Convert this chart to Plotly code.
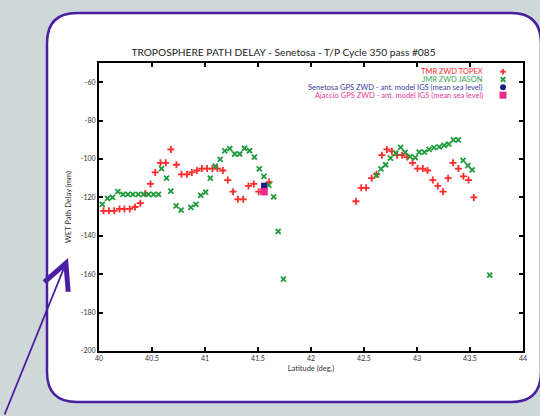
import plotly.graph_objects as go

# ---------------- data ----------------
topex_lat = [40.043, 40.094, 40.144, 40.194, 40.24, 40.29, 40.34, 40.39, 40.436, 40.486,
             40.53, 40.58, 40.63, 40.678, 40.73, 40.778, 40.83, 40.876, 40.923, 40.97,
             41.02, 41.07, 41.117, 41.168, 41.215, 41.265, 41.31, 41.36, 41.41, 41.46,
             41.507, 41.604,
             42.424, 42.474, 42.52, 42.572, 42.619, 42.669, 42.716, 42.763, 42.813, 42.86,
             42.907, 42.958, 43.005, 43.055, 43.1, 43.149, 43.196, 43.246, 43.293, 43.34,
             43.391, 43.438, 43.486, 43.536]
topex_wet = [-127, -127, -127, -126, -126, -126, -125, -123, -118, -113,
             -107, -102, -102, -95, -103, -108, -108, -107, -106, -105,
             -105, -105, -105, -106, -111, -117, -121, -121, -114, -113,
             -117, -112,
             -122, -115, -115, -110, -108, -98, -95, -96, -98, -98,
             -99, -102, -105, -105, -106, -111, -114, -117, -110, -102,
             -105, -109, -111, -120]

jason_lat = [40.031, 40.08, 40.128, 40.178, 40.226, 40.273, 40.32, 40.37, 40.42, 40.467,
             40.515, 40.561, 40.59, 40.637, 40.678, 40.728, 40.775, 40.867, 40.914, 40.96,
             41.006, 41.05, 41.096, 41.143, 41.187, 41.234, 41.28, 41.327, 41.373, 41.42,
             41.466, 41.512, 41.556, 41.602, 41.648, 41.69, 41.74,
             42.619, 42.66, 42.704, 42.75, 42.798, 42.845, 42.888, 42.935, 42.983, 43.02,
             43.07, 43.114, 43.16, 43.21, 43.256, 43.3, 43.344, 43.39, 43.435, 43.48,
             43.52, 43.686]
jason_wet = [-123.6, -120.5, -120, -117, -118.4, -118.4, -118.4, -118.4, -118.4, -118.4,
             -118.4, -118.4, -105, -110, -116.7, -124.4, -126.6, -125.2, -123.6, -119,
             -117.3, -110, -103.7, -100.2, -95.8, -94.6, -97.4, -97.4, -94.4, -95.7,
             -99, -105.1, -109, -113.6, -119.7, -137.7, -162.6,
             -108.4, -105.2, -103, -99.5, -96.9, -93.9, -96.5, -98.8, -99.3, -96.4,
             -96.4, -95, -94.1, -93.7, -92.9, -92.2, -90, -90, -100.7, -103.5,
             -105.7, -160.5]

senetosa_lat = [41.557]
senetosa_wet = [-113.9]
ajaccio_lat = [41.557]
ajaccio_wet = [-117]

legend_labels = ["TMR ZWD TOPEX", "JMR ZWD JASON",
                 "Senetosa GPS ZWD - ant. model IGS (mean sea level)",
                 "Ajaccio GPS ZWD - ant. model IGS (mean sea level)"]

x_ticks = [40, 40.5, 41, 41.5, 42, 42.5, 43, 43.5, 44]
y_ticks = [-200, -180, -160, -140, -120, -100, -80, -60]

# ---------------- styling ----------------
RED = "#ff2a2a"
GREEN = "#1f9a3a"
NAVY = "#1c1c8c"
MAGENTA = "#ec2a8e"
PURPLE = "#4a1ea0"
FONT = "Lato"

fig = go.Figure()
fig.add_trace(go.Scatter(x=topex_lat, y=topex_wet, mode="markers",
                         marker=dict(symbol="cross-thin", size=5, color=RED,
                                     line=dict(color=RED, width=1.8))))
fig.add_trace(go.Scatter(x=jason_lat, y=jason_wet, mode="markers",
                         marker=dict(symbol="x-thin", size=5, color=GREEN,
                                     line=dict(color=GREEN, width=1.8))))
fig.add_trace(go.Scatter(x=senetosa_lat, y=senetosa_wet, mode="markers",
                         marker=dict(symbol="square", size=6, color=NAVY, line=dict(width=0))))
fig.add_trace(go.Scatter(x=ajaccio_lat, y=ajaccio_wet, mode="markers",
                         marker=dict(symbol="square", size=7.5, color=MAGENTA, line=dict(width=0))))

# plot area geometry (pixels)
W, H = 540, 416
L, R, T, B = 99, 17, 63, 65
pw, ph = W - L - R, H - T - B


def px2paper_x(px):
    return (px - L) / pw


def px2paper_y(py):
    return (H - B - py) / ph


# rounded white panel
x0, x1 = px2paper_x(47), px2paper_x(541)
y0, y1 = px2paper_y(402), px2paper_y(13)
rx, ry = 30 / pw, 30 / ph
path = (f"M {x0+rx} {y1} L {x1-rx} {y1} Q {x1} {y1} {x1} {y1-ry} "
        f"L {x1} {y0+ry} Q {x1} {y0} {x1-rx} {y0} "
        f"L {x0+rx} {y0} Q {x0} {y0} {x0} {y0+ry} "
        f"L {x0} {y1-ry} Q {x0} {y1} {x0+rx} {y1} Z")
fig.add_shape(type="path", path=path, xref="paper", yref="paper",
              fillcolor="white", line=dict(color=PURPLE, width=2.5), layer="below")

# legend (text right-aligned, symbol drawn on the right)
legend_colors = [RED, "#3aa655", "#3c3aa0", "#e8389a"]
rows_py = [71.7, 79.5, 87.3, 95.2]
sym_x = px2paper_x(503)
for lab, tc, py in zip(legend_labels, legend_colors, rows_py):
    fig.add_annotation(x=px2paper_x(485), y=px2paper_y(py), xref="paper", yref="paper",
                       text=lab, showarrow=False, xanchor="right", yanchor="middle",
                       font=dict(family=FONT, size=7.5, color=tc))

pix = dict(xref="paper", yref="paper", xsizemode="pixel", ysizemode="pixel", xanchor=sym_x)
# plus
fig.add_shape(type="line", yanchor=px2paper_y(rows_py[0]), x0=-2.8, x1=2.8, y0=0, y1=0,
              line=dict(color=RED, width=1.8), **pix)
fig.add_shape(type="line", yanchor=px2paper_y(rows_py[0]), x0=0, x1=0, y0=-2.8, y1=2.8,
              line=dict(color=RED, width=1.8), **pix)
# cross
fig.add_shape(type="line", yanchor=px2paper_y(rows_py[1]), x0=-2.3, x1=2.3, y0=-2.3, y1=2.3,
              line=dict(color=GREEN, width=1.8), **pix)
fig.add_shape(type="line", yanchor=px2paper_y(rows_py[1]), x0=-2.3, x1=2.3, y0=2.3, y1=-2.3,
              line=dict(color=GREEN, width=1.8), **pix)
# circle
fig.add_shape(type="circle", yanchor=px2paper_y(rows_py[2]), x0=-3, x1=3, y0=-3, y1=3,
              fillcolor=NAVY, line=dict(width=0), **pix)
# square
fig.add_shape(type="rect", yanchor=px2paper_y(rows_py[3]), x0=-3.5, x1=3.5, y0=-3.5, y1=3.5,
              fillcolor=MAGENTA, line=dict(width=0), **pix)

# purple arrow
fig.add_annotation(x=px2paper_x(68), y=px2paper_y(258), xref="paper", yref="paper",
                   ax=-64, ay=160, showarrow=True, arrowhead=5, arrowsize=2.8,
                   arrowwidth=1.8, arrowcolor=PURPLE, text="")

axis_common = dict(showline=True, linecolor="black", linewidth=2, mirror="ticks",
                   ticks="inside", ticklen=4, tickwidth=2, tickcolor="black",
                   showgrid=False, zeroline=False,
                   tickfont=dict(family=FONT, size=7, color="#333333"))

fig.update_xaxes(range=[40, 44], tickvals=x_ticks,
                 ticktext=[f"{v:g}" for v in x_ticks],
                 title=dict(text="Latitude (deg.)", font=dict(family=FONT, size=7.5, color="#333333"),
                            standoff=4),
                 **axis_common)
fig.update_yaxes(range=[-200, -50], tickvals=y_ticks,
                 ticktext=[f"{v:g}" for v in y_ticks],
                 title=dict(text="WET Path Delay (mm)", font=dict(family=FONT, size=7.5, color="#333333"),
                            standoff=8),
                 **axis_common)

fig.update_layout(
    width=W, height=H,
    margin=dict(l=L, r=R, t=T, b=B),
    paper_bgcolor="#cfd8d8",
    plot_bgcolor="white",
    showlegend=False,
    title=dict(text="TROPOSPHERE PATH DELAY - Senetosa - T/P Cycle 350 pass #085",
               font=dict(family=FONT, size=10.2, color="#222222"),
               x=px2paper_x(283.5), xref="paper", xanchor="center",
               y=1 - 52 / H, yref="container", yanchor="middle"),
)

fig.write_html("out.html")
